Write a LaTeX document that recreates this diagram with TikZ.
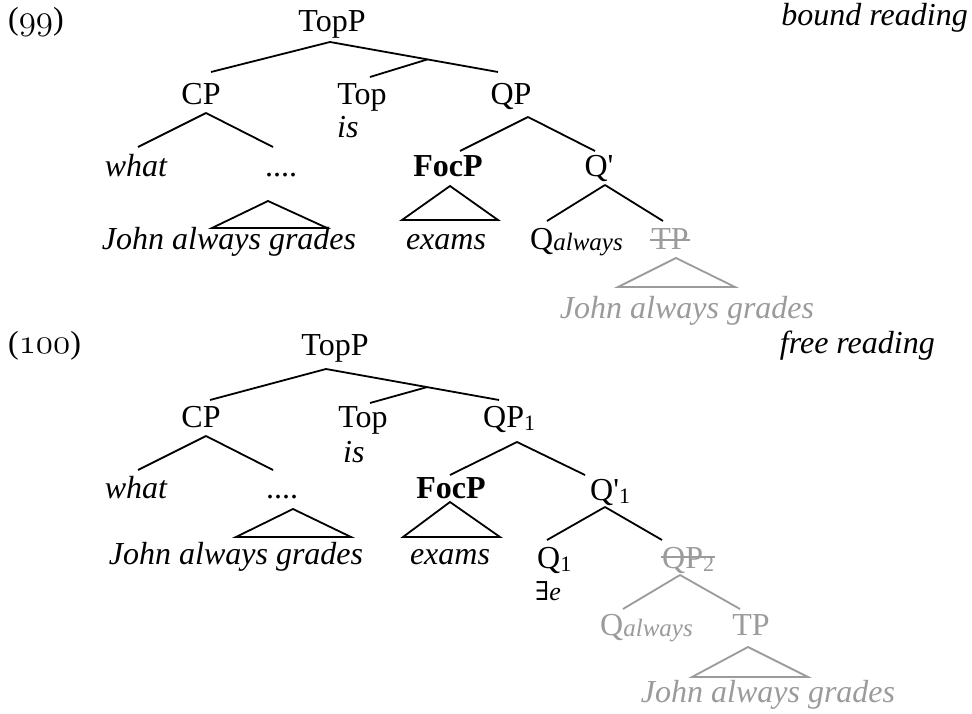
\documentclass[tikz,border=0pt]{standalone}
\usepackage{fontspec}
\setmainfont{Liberation Serif}
\newfontfamily\dejaserif{DejaVu Serif}
\usetikzlibrary{calc}
\definecolor{ghost}{RGB}{155,155,155}
\DeclareFontFamily{OML}{myosn}{}
\DeclareFontShape{OML}{myosn}{m}{it}{<->cmmi12}{}
\newcommand\bigf{\fontsize{32}{38}\selectfont}
\newcommand\osn[1]{{\fontsize{35}{40}\usefont{OML}{myosn}{m}{it}#1}}
\newcommand\sbs[1]{\raisebox{-3pt}{\fontsize{22}{26}\selectfont #1}}
\newcommand\sbal{\raisebox{-1pt}{\fontsize{25}{28}\selectfont\itshape always}}
\newcommand\prm{\textquotesingle}
\begin{document}
\begin{tikzpicture}[x=1pt,y=-1pt,
  lab/.style={inner sep=0pt, anchor=base, font=\bigf},
  labw/.style={inner sep=0pt, anchor=base west, font=\bigf},
  labe/.style={inner sep=0pt, anchor=base east, font=\bigf\itshape},
  it/.style={font=\bigf\itshape},
  br/.style={line width=1.8pt},
  gbr/.style={line width=1.8pt, draw=ghost},
  gtxt/.style={text=ghost}]
\fill[white] (0,0) rectangle (972,714);
\useasboundingbox (0,0) rectangle (972,714);

% ---------------- (99) ----------------
\node[labw] (ex1) at (8,30) {(\osn{99})};
\node[labe] (rd1) at (968,26) {bound reading};
\node[lab] (TopP1) at (332,32) {TopP};
\node[lab] (CP1) at (201,105) {CP};
\node[lab] (Top1) at (362,105) {Top};
\node[lab] (QP1) at (511,105) {QP};
\node[labw,it] (is1) at (337,138) {is};
\node[lab,it] (what1) at (136,177) {what};
\node[lab] (dots1) at (281,177) {....};
\node[lab,it] (jag1) at (229,250) {John always grades};
\node[lab,font=\bigf\bfseries] (FocP1) at (448,177) {FocP};
\node[lab,it] (exams1) at (446,250) {exams};
\node[lab] (Qp1) at (599,177) {Q\prm};
\node[labw] (Qal1) at (530,250) {Q\sbal};
\node[lab,gtxt] (TP1) at (670,250) {TP};
\node[lab,it,gtxt] (gjag1) at (687,318) {John always grades};

\coordinate (TopP1b) at ([shift={(-2,10)}]TopP1.base);
\coordinate (CP1t) at ([shift={(10,-33)}]CP1.base);
\coordinate (CP1b) at ([shift={(5,8)}]CP1.base);
\coordinate (Top1t) at ([shift={(8,-28)}]Top1.base);
\coordinate (QP1t) at ([shift={(-13,-33)}]QP1.base);
\coordinate (QP1b) at ([shift={(17,12)}]QP1.base);
\coordinate (j1) at ($(TopP1b)!0.58!(QP1t)$);
\coordinate (what1t) at ([shift={(2,-30)}]what1.base);
\coordinate (dots1t) at ([shift={(-8,-30)}]dots1.base);
\coordinate (dots1a) at ([shift={(-13,24)}]dots1.base);
\coordinate (FocP1t) at ([shift={(12,-26)}]FocP1.base);
\coordinate (FocP1a) at ([shift={(2,9)}]FocP1.base);
\coordinate (Qp1t) at ([shift={(-4,-26)}]Qp1.base);
\coordinate (Qp1b) at ([shift={(6,8)}]Qp1.base);
\coordinate (Qal1t) at ([shift={(17,-29)}]Qal1.base west);
\coordinate (TP1t) at ([shift={(-7,-29)}]TP1.base);
\coordinate (TP1a) at ([shift={(6,8)}]TP1.base);

\draw[br] (TopP1b) -- (CP1t);
\draw[br] (TopP1b) -- (QP1t);
\draw[br] (j1) -- (Top1t);
\draw[br] (CP1b) -- (what1t);
\draw[br] (CP1b) -- (dots1t);
\draw[br] (dots1a) -- ++(-56,27) -- ++(115,0) -- cycle;
\draw[br] (QP1b) -- (FocP1t);
\draw[br] (QP1b) -- (Qp1t);
\draw[br] (FocP1a) -- ++(-48,34) -- ++(96,0) -- cycle;
\draw[br] (Qp1b) -- (Qal1t);
\draw[br] (Qp1b) -- (TP1t);
\draw[gbr] (TP1a) -- ++(-58,29) -- ++(117,0) -- cycle;
\draw[gbr] ([shift={(-1,-10)}]TP1.base west) -- ([shift={(1,-10)}]TP1.base east);

% ---------------- (100) ----------------
\node[labw] (ex2) at (8,353) {(\osn{100})};
\node[labe] (rd2) at (935,353) {free reading};
\node[lab] (TopP2) at (335,355) {TopP};
\node[lab] (CP2) at (201,427) {CP};
\node[lab] (Top2) at (363,427) {Top};
\node[labw] (QP2) at (483,427) {QP\sbs{1}};
\node[labw,it] (is2) at (343,462) {is};
\node[lab,it] (what2) at (136,498) {what};
\node[lab] (dots2) at (282,498) {....};
\node[lab,it] (jag2) at (236,564) {John always grades};
\node[lab,font=\bigf\bfseries] (FocP2) at (451,498) {FocP};
\node[lab,it] (exams2) at (450,564) {exams};
\node[labw] (Qp2) at (590,500) {Q\prm\sbs{1}};
\node[labw] (Q12) at (537,568) {Q\sbs{1}};
\node[labw,font=\fontsize{26}{30}\selectfont] (ex12) at (535,600) {{\dejaserif\itshape ∃}\itshape e};
\node[labw,gtxt] (QPg) at (662,568) {QP\sbs{2}};
\node[labw,gtxt] (Qalg) at (600,635) {Q\sbal};
\node[lab,gtxt] (TPg) at (751,635) {TP};
\node[lab,it,gtxt] (gjag2) at (768,702) {John always grades};

\coordinate (TopP2b) at ([shift={(-9,14)}]TopP2.base);
\coordinate (CP2t) at ([shift={(9,-27)}]CP2.base);
\coordinate (CP2b) at ([shift={(5,9)}]CP2.base);
\coordinate (Top2t) at ([shift={(7,-24)}]Top2.base);
\coordinate (QP2t) at ([shift={(16,-27)}]QP2.base west);
\coordinate (QP2b) at ([shift={(34,15)}]QP2.base west);
\coordinate (j2) at ($(TopP2b)!0.584!(QP2t)$);
\coordinate (what2t) at ([shift={(2,-28)}]what2.base);
\coordinate (dots2t) at ([shift={(-9,-28)}]dots2.base);
\coordinate (dots2a) at ([shift={(11,11)}]dots2.base);
\coordinate (FocP2t) at ([shift={(-1,-23)}]FocP2.base);
\coordinate (FocP2a) at ([shift={(-1,4)}]FocP2.base);
\coordinate (Qp2t) at ([shift={(-5,-25)}]Qp2.base west);
\coordinate (Qp2b) at ([shift={(15,7)}]Qp2.base west);
\coordinate (Q12t) at ([shift={(10,-28)}]Q12.base west);
\coordinate (QPgt) at ([shift={(0,-28)}]QPg.base west);
\coordinate (QPgb) at ([shift={(18,7)}]QPg.base west);
\coordinate (Qalgt) at ([shift={(23,-26)}]Qalg.base west);
\coordinate (TPgt) at ([shift={(-11,-26)}]TPg.base);
\coordinate (TPga) at ([shift={(-3,12)}]TPg.base);

\draw[br] (TopP2b) -- (CP2t);
\draw[br] (TopP2b) -- (QP2t);
\draw[br] (j2) -- (Top2t);
\draw[br] (CP2b) -- (what2t);
\draw[br] (CP2b) -- (dots2t);
\draw[br] (dots2a) -- ++(-57,28) -- ++(115,0) -- cycle;
\draw[br] (QP2b) -- (FocP2t);
\draw[br] (QP2b) -- (Qp2t);
\draw[br] (FocP2a) -- ++(-47,35) -- ++(97,0) -- cycle;
\draw[br] (Qp2b) -- (Q12t);
\draw[br] (Qp2b) -- (QPgt);
\draw[gbr] ([shift={(-1,-11)}]QPg.base west) -- ([shift={(1,-11)}]QPg.base east);
\draw[gbr] (QPgb) -- (Qalgt);
\draw[gbr] (QPgb) -- (TPgt);
\draw[gbr] (TPga) -- ++(-56,30) -- ++(116,0) -- cycle;
\end{tikzpicture}
\end{document}
